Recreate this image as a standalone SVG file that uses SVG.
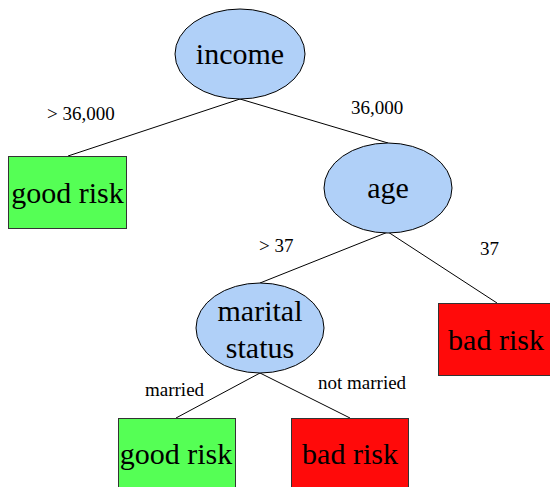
<svg xmlns="http://www.w3.org/2000/svg" width="550" height="487" viewBox="0 0 550 487">
<style>
.dec ellipse{fill:#B0D0F8;stroke:#000;stroke-width:1}
.good rect{fill:#55FF55;stroke:#333;stroke-width:1}
.bad rect{fill:#FF0A0A;stroke:#333;stroke-width:1}
.nt{font-family:"Liberation Serif","Times New Roman",serif;font-size:30px;fill:#000;text-anchor:middle}
.lb{font-family:"Liberation Serif","Times New Roman",serif;font-size:19px;fill:#000}
.edges line{stroke:#000;stroke-width:1}
</style>
<rect width="550" height="487" fill="#fff"/>
<g id="connectors" class="edges">
<line x1="240" y1="99" x2="68" y2="156"/>
<line x1="240" y1="99" x2="388" y2="143"/>
<line x1="388" y1="232" x2="260" y2="283"/>
<line x1="388" y1="232" x2="497" y2="303"/>
<line x1="260" y1="373" x2="176" y2="418"/>
<line x1="260" y1="373" x2="350" y2="418"/>
</g>
<g id="edge-labels">
<text class="lb" x="47" y="120">&gt; 36,000</text>
<text class="lb" x="351" y="114">36,000</text>
<text class="lb" x="259" y="252">&gt; 37</text>
<text class="lb" x="480" y="255">37</text>
<text class="lb" x="145" y="396">married</text>
<text class="lb" x="318" y="389">not married</text>
</g>
<g id="income" class="dec"><ellipse cx="240" cy="54" rx="65" ry="45"/><text class="nt" x="240" y="64">income</text></g>
<g id="good-risk-1" class="good"><rect x="8.5" y="156.5" width="118" height="72"/><text class="nt" x="67.5" y="203">good risk</text></g>
<g id="age" class="dec"><ellipse cx="388" cy="188" rx="64" ry="45"/><text class="nt" x="388" y="198">age</text></g>
<g id="marital-status" class="dec"><ellipse cx="260" cy="328" rx="64" ry="45"/><text class="nt" x="260" y="321">marital</text><text class="nt" x="260" y="358">status</text></g>
<g id="bad-risk-1" class="bad"><rect x="438.5" y="303.5" width="118" height="72"/><text class="nt" x="496" y="350">bad risk</text></g>
<g id="good-risk-2" class="good"><rect x="118.5" y="418.5" width="117" height="72"/><text class="nt" x="176" y="464">good risk</text></g>
<g id="bad-risk-2" class="bad"><rect x="291.5" y="418.5" width="117" height="72"/><text class="nt" x="350" y="464">bad risk</text></g>
</svg>
